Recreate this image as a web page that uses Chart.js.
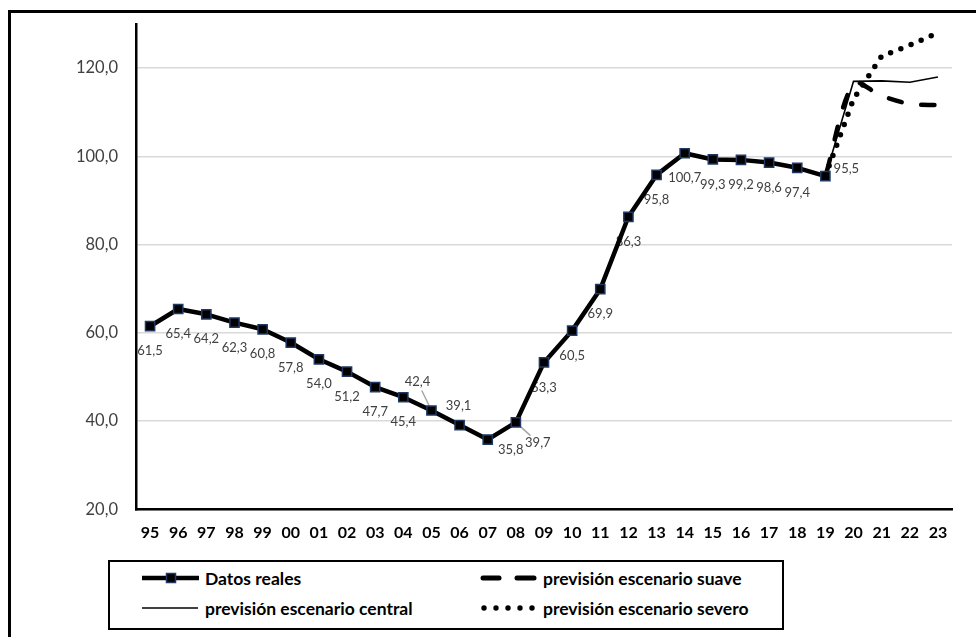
<!DOCTYPE html>
<html>
<head>
<meta charset="utf-8">
<script src="https://cdn.jsdelivr.net/npm/chart.js@4"></script>
<style>
  html, body { margin: 0; padding: 0; background: #fff; overflow: hidden; }
  #wrap { position: relative; width: 976px; height: 637px; overflow: hidden; }
  #frame { position: absolute; left: 8px; top: 10px; width: 1000px; height: 700px; border: 3px solid #000; box-sizing: border-box; }
  #chart { position: absolute; left: 0; top: 0; }
  #legend { position: absolute; left: 108px; top: 560px; width: 676px; height: 70px; border: 2px solid #000; box-sizing: border-box; background: #fff; font: bold 17.5px Lato, sans-serif; color: #000; }
  .item { position: absolute; display: flex; align-items: center; height: 22px; white-space: nowrap; }
  .item svg { display: block; margin-right: 6px; }
</style>
</head>
<body>
<div id="wrap">
  <div id="frame"></div>
  <canvas id="chart" width="976" height="637"></canvas>
  <div id="legend"></div>
</div>
<script>
// Years on the horizontal axis (1995 - 2023)
const years = ['95','96','97','98','99','00','01','02','03','04','05','06','07','08','09',
               '10','11','12','13','14','15','16','17','18','19','20','21','22','23'];

// Observed values 1995 - 2019
const datosReales = [61.5, 65.4, 64.2, 62.3, 60.8, 57.8, 54.0, 51.2, 47.7, 45.4, 42.4, 39.1, 35.8,
                     39.7, 53.3, 60.5, 69.9, 86.3, 95.8, 100.7, 99.3, 99.2, 98.6, 97.4, 95.5];

// Forecast scenarios, 2019 - 2023
const previsionSuave   = [95.5, 116.5, 113.7, 111.9, 111.6];
const previsionCentral = [95.5, 117.0, 117.1, 116.8, 118.0];
const previsionSevero  = [95.5, 113.0, 122.7, 125.2, 128.0];

const yTicks = [20, 40, 60, 80, 100, 120];

const seriesNames = ['Datos reales', 'previsión escenario suave',
                     'previsión escenario central', 'previsión escenario severo'];

const fmt = v => v.toFixed(1).replace('.', ',');

// Forecasts start at the last observed year
const lead = Array(years.length - previsionCentral.length).fill(null);
const realFull = datosReales.concat(Array(years.length - datosReales.length).fill(null));

// Value labels: default placement is below the marker; a few sit elsewhere
const labelOffsets = { 10: [-14, -29], 11: [-1, -19], 12: [23, 10], 13: [22, 20], 24: [21, -7] };
const leaderLines = [10, 13];

const pointLabels = {
  id: 'pointLabels',
  beforeDatasetsDraw(chart) {
    const meta = chart.getDatasetMeta(0);
    const ctx = chart.ctx;
    ctx.save();
    ctx.font = '13px Lato, sans-serif';
    ctx.fillStyle = '#404040';
    ctx.textAlign = 'center';
    ctx.textBaseline = 'middle';
    meta.data.forEach((pt, i) => {
      const v = datosReales[i];
      if (v == null) return;
      const off = labelOffsets[i] || [0, 25];
      const x = pt.x + off[0], y = pt.y + off[1];
      if (leaderLines.includes(i)) {
        const dx = x - pt.x, dy = y - pt.y;
        const len = Math.hypot(dx, dy);
        const k = 1 - 10 / len;
        ctx.save();
        ctx.strokeStyle = '#a6a6a6';
        ctx.lineWidth = 1.5;
        ctx.beginPath();
        ctx.moveTo(pt.x, pt.y);
        ctx.lineTo(pt.x + dx * k, pt.y + dy * k);
        ctx.stroke();
        ctx.restore();
      }
      ctx.fillText(fmt(v), x, y);
    });
    ctx.restore();
  }
};

function buildLegend() {
  const lg = document.getElementById('legend');
  const symbols = [
    // Datos reales
    '<svg width="57" height="20"><line x1="0" y1="10" x2="57" y2="10" stroke="#000" stroke-width="4.5"/>' +
    '<rect x="24.5" y="5.5" width="9" height="9" fill="#000" stroke="#1f3864" stroke-width="1.5"/></svg>',
    // suave
    '<svg width="57" height="20"><line x1="3" y1="10" x2="19" y2="10" stroke="#000" stroke-width="5" stroke-linecap="round"/>' +
    '<line x1="37" y1="10" x2="54" y2="10" stroke="#000" stroke-width="5" stroke-linecap="round"/></svg>',
    // central
    '<svg width="57" height="20"><line x1="0" y1="10" x2="56" y2="10" stroke="#000" stroke-width="1.6"/></svg>',
    // severo
    '<svg width="57" height="20">' + [4, 16, 28, 40, 52].map(cx =>
      '<circle cx="' + cx + '" cy="10" r="2.7" fill="#000"/>').join('') + '</svg>'
  ];
  const pos = [[32, 5], [370, 5], [32, 35], [370, 35]];
  seriesNames.forEach((name, i) => {
    const d = document.createElement('div');
    d.className = 'item';
    d.style.left = pos[i][0] + 'px';
    d.style.top = pos[i][1] + 'px';
    d.innerHTML = symbols[i] + '<span>' + name + '</span>';
    lg.appendChild(d);
  });
}

function draw() {
  new Chart(document.getElementById('chart'), {
    type: 'line',
    data: {
      labels: years,
      datasets: [
        {
          label: seriesNames[0],
          data: realFull,
          borderColor: '#000',
          borderWidth: 4.5,
          borderJoinStyle: 'round',
          pointStyle: 'rect',
          pointRadius: 6.5,
          pointBackgroundColor: '#000',
          pointBorderColor: '#1f3864',
          pointBorderWidth: 1.5,
          tension: 0
        },
        {
          label: seriesNames[2],
          data: lead.concat(previsionCentral),
          borderColor: '#000',
          borderWidth: 1.6,
          pointRadius: 0,
          tension: 0
        },
        {
          label: seriesNames[1],
          data: lead.concat(previsionSuave),
          borderColor: '#000',
          borderWidth: 4.5,
          borderDash: [13, 20],
          borderDashOffset: 28,
          borderCapStyle: 'round',
          pointRadius: 0,
          tension: 0.3
        },
        {
          label: seriesNames[3],
          data: lead.concat(previsionSevero),
          borderColor: '#000',
          borderWidth: 5.5,
          borderDash: [0, 11],
          borderCapStyle: 'round',
          pointRadius: 0,
          tension: 0
        }
      ]
    },
    options: {
      responsive: false,
      animation: false,
      events: [],
      layout: { padding: { left: 0, top: 24, right: 24, bottom: 87.7 } },
      plugins: { legend: { display: false }, tooltip: { enabled: false } },
      scales: {
        x: {
          type: 'category',
          offset: true,
          grid: { display: false, drawTicks: false },
          border: { display: true, color: '#000', width: 2.5 },
          ticks: {
            autoSkip: false, maxRotation: 0, padding: 14,
            color: '#000',
            font: { family: 'Lato', size: 16, weight: 'bold' }
          },
          afterFit(scale) { scale.height = 40; }
        },
        y: {
          min: 20,
          max: 130,
          grid: { color: '#d9d9d9', lineWidth: 1.5, drawTicks: false },
          border: { display: true, color: '#000', width: 2.5 },
          ticks: {
            padding: 18,
            color: '#404040',
            font: { family: 'Lato', size: 16.5 },
            callback: v => fmt(v)
          },
          afterBuildTicks(scale) { scale.ticks = yTicks.map(v => ({ value: v })); },
          afterFit(scale) {
            scale.width = 136;
            scale.paddingTop = 0;
            scale.paddingBottom = 0;
          }
        }
      }
    },
    plugins: [pointLabels]
  });
}

buildLegend();
const ready = document.fonts ? Promise.all([
  document.fonts.load('16px Lato'), document.fonts.load('bold 16px Lato'), document.fonts.load('13px Lato')
]).catch(() => {}) : Promise.resolve();
ready.then(draw);
</script>
</body>
</html>
